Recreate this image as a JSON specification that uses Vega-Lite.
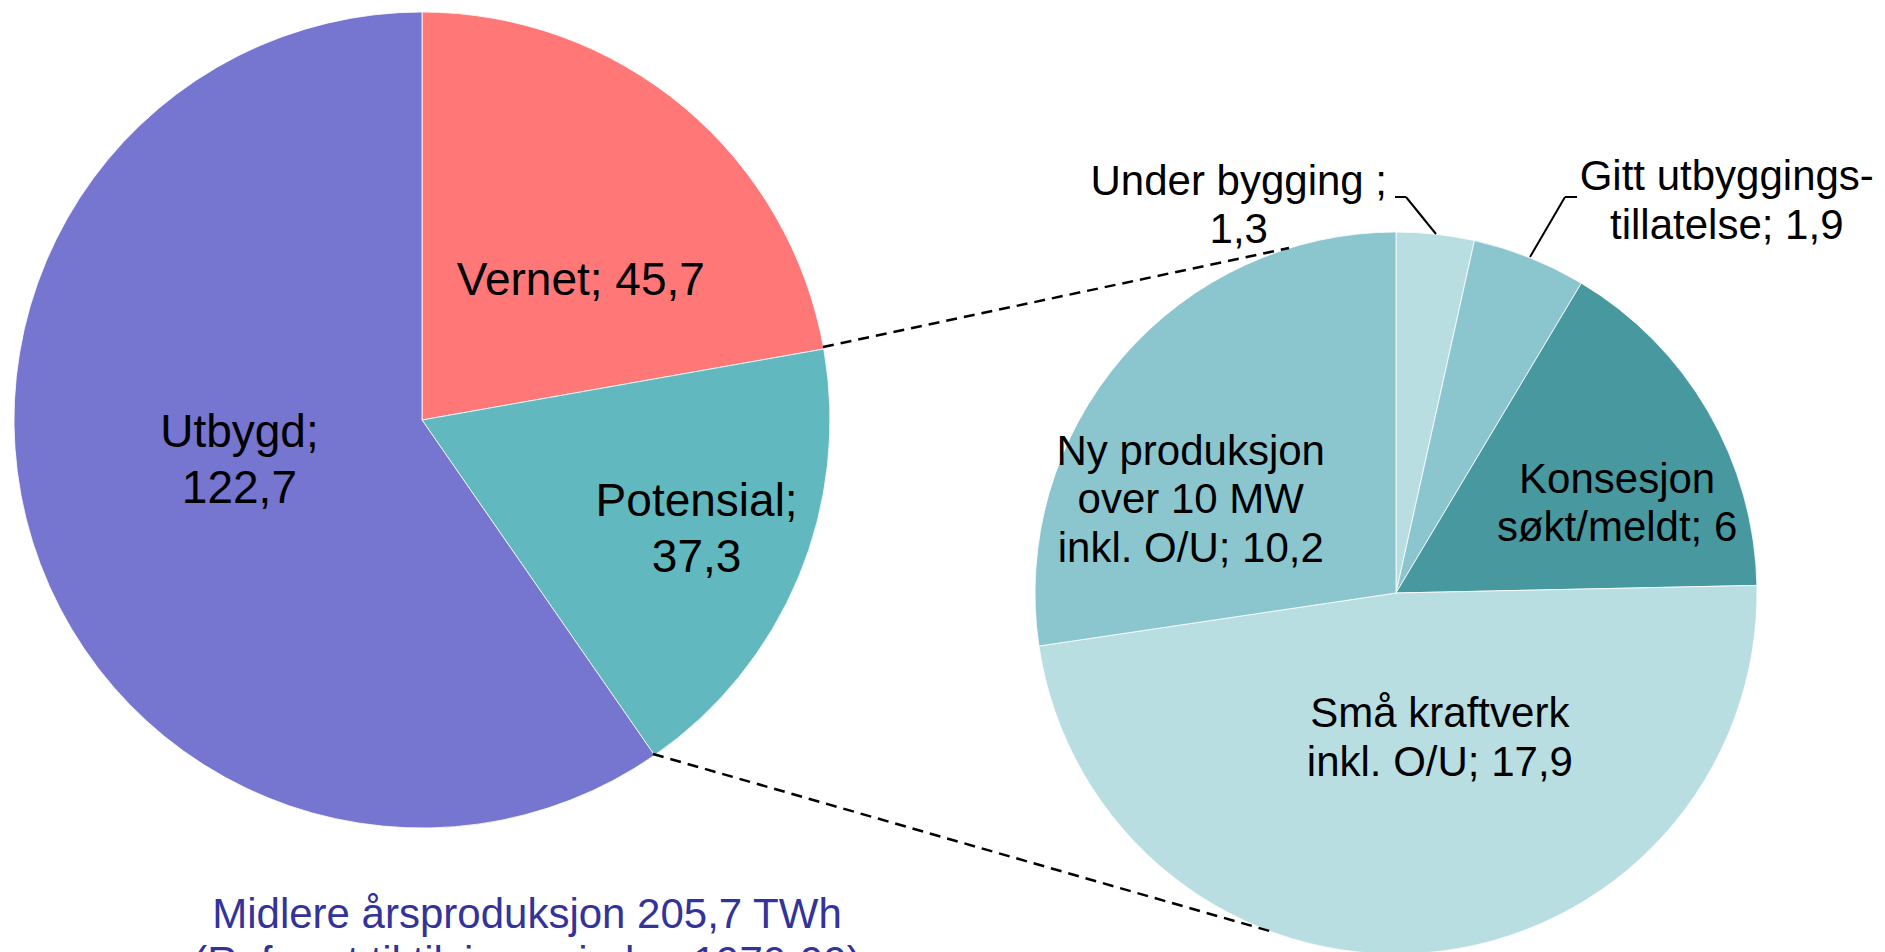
{
  "$schema": "https://vega.github.io/schema/vega-lite/v6.json",
  "width": 1885,
  "height": 952,
  "autosize": "none",
  "padding": 0,
  "background": "white",
  "config": {"view": {"stroke": null}, "font": "Liberation Sans"},
  "resolve": {"scale": {"theta": "independent"}},
  "layer": [
    {
      "data": {"values": [
        {"kategori": "Vernet", "twh": 45.7, "rekkefolge": 1, "etikett": ["Vernet; 45,7"]},
        {"kategori": "Potensial", "twh": 37.3, "rekkefolge": 2, "etikett": ["Potensial;", "37,3"]},
        {"kategori": "Utbygd", "twh": 122.7, "rekkefolge": 3, "etikett": ["Utbygd;", "122,7"]}
      ]},
      "encoding": {
        "theta": {"field": "twh", "type": "quantitative", "stack": true},
        "order": {"field": "rekkefolge", "type": "quantitative", "sort": "ascending"}
      },
      "layer": [
        {
          "mark": {"type": "arc", "x": 422, "y": 420, "radius": 408, "stroke": "white", "strokeWidth": 0.8},
          "encoding": {
            "color": {
              "field": "kategori", "type": "nominal", "legend": null,
              "scale": {
                "domain": ["Utbygd", "Vernet", "Potensial", "Under bygging", "Gitt utbyggingstillatelse", "Konsesjon søkt/meldt", "Små kraftverk", "Ny produksjon over 10 MW"],
                "range": ["#7675CF", "#FF7777", "#62B8BF", "#B9DEE2", "#8BC6CE", "#4898A0", "#B9DEE2", "#8BC6CE"]
              }
            }
          }
        },
        {
          "mark": {
            "type": "text", "x": 422, "y": 420,
            "radius": {"expr": "datum.kategori === 'Vernet' ? 202 : datum.kategori === 'Potensial' ? 291 : 185"},
            "dx": {"expr": "datum.kategori === 'Vernet' ? 29 : datum.kategori === 'Potensial' ? 6 : -6"},
            "dy": {"expr": "datum.kategori === 'Vernet' ? 30 : datum.kategori === 'Potensial' ? -16 : -28"},
            "fontSize": 46, "lineHeight": 56, "align": "center", "baseline": "alphabetic", "color": "black"
          },
          "encoding": {
            "text": {"field": "etikett", "type": "nominal"},
            "detail": {"field": "kategori", "type": "nominal"}
          }
        }
      ]
    },
    {
      "data": {"values": [
        {"kategori": "Under bygging", "twh": 1.3, "rekkefolge": 1, "etikett": ["Under bygging ;", "1,3"]},
        {"kategori": "Gitt utbyggingstillatelse", "twh": 1.9, "rekkefolge": 2, "etikett": ["Gitt utbyggings-", "tillatelse; 1,9"]},
        {"kategori": "Konsesjon søkt/meldt", "twh": 6, "rekkefolge": 3, "etikett": ["Konsesjon", "søkt/meldt; 6"]},
        {"kategori": "Små kraftverk", "twh": 17.9, "rekkefolge": 4, "etikett": ["Små kraftverk", "inkl. O/U; 17,9"]},
        {"kategori": "Ny produksjon over 10 MW", "twh": 10.2, "rekkefolge": 5, "etikett": ["Ny produksjon", "over 10 MW", "inkl. O/U; 10,2"]}
      ]},
      "encoding": {
        "theta": {"field": "twh", "type": "quantitative", "stack": true},
        "order": {"field": "rekkefolge", "type": "quantitative", "sort": "ascending"}
      },
      "layer": [
        {
          "mark": {"type": "arc", "x": 1396, "y": 593, "radius": 361, "stroke": "white", "strokeWidth": 0.8},
          "encoding": {
            "color": {
              "field": "kategori", "type": "nominal", "legend": null,
              "scale": {
                "domain": ["Utbygd", "Vernet", "Potensial", "Under bygging", "Gitt utbyggingstillatelse", "Konsesjon søkt/meldt", "Små kraftverk", "Ny produksjon over 10 MW"],
                "range": ["#7675CF", "#FF7777", "#62B8BF", "#B9DEE2", "#8BC6CE", "#4898A0", "#B9DEE2", "#8BC6CE"]
              }
            }
          }
        },
        {
          "mark": {
            "type": "text", "x": 1396, "y": 593,
            "radius": {"expr": "datum.rekkefolge === 1 ? 428 : datum.rekkefolge === 2 ? 521 : datum.rekkefolge === 3 ? 243 : datum.rekkefolge === 4 ? 141 : 242"},
            "dx": {"expr": "datum.rekkefolge === 1 ? -204 : datum.rekkefolge === 2 ? 138 : datum.rekkefolge === 3 ? 11 : datum.rekkefolge === 4 ? 32 : -22"},
            "dy": {"expr": "datum.rekkefolge === 1 ? 27 : datum.rekkefolge === 2 ? 81.5 : datum.rekkefolge === 3 ? 22 : datum.rekkefolge === 4 ? -6.5 : 30"},
            "fontSize": 42, "lineHeight": 48.5, "align": "center", "baseline": "alphabetic", "color": "black"
          },
          "encoding": {
            "text": {"field": "etikett", "type": "nominal"},
            "detail": {"field": "kategori", "type": "nominal"}
          }
        }
      ]
    },
    {
      "data": {"values": [{}]},
      "mark": {"type": "rule", "color": "black", "strokeWidth": 2.5, "strokeDash": [11, 7]},
      "encoding": {"x": {"value": 823}, "y": {"value": 347}, "x2": {"value": 1289}, "y2": {"value": 248}}
    },
    {
      "data": {"values": [{}]},
      "mark": {"type": "rule", "color": "black", "strokeWidth": 2.5, "strokeDash": [11, 7]},
      "encoding": {"x": {"value": 653}, "y": {"value": 754}, "x2": {"value": 1273}, "y2": {"value": 932}}
    },
    {
      "data": {"values": [{}]},
      "mark": {"type": "rule", "color": "black", "strokeWidth": 2},
      "encoding": {"x": {"value": 1395}, "y": {"value": 197}, "x2": {"value": 1406}, "y2": {"value": 197}}
    },
    {
      "data": {"values": [{}]},
      "mark": {"type": "rule", "color": "black", "strokeWidth": 2},
      "encoding": {"x": {"value": 1406}, "y": {"value": 197}, "x2": {"value": 1436}, "y2": {"value": 234}}
    },
    {
      "data": {"values": [{}]},
      "mark": {"type": "rule", "color": "black", "strokeWidth": 2},
      "encoding": {"x": {"value": 1565}, "y": {"value": 197}, "x2": {"value": 1577}, "y2": {"value": 197}}
    },
    {
      "data": {"values": [{}]},
      "mark": {"type": "rule", "color": "black", "strokeWidth": 2},
      "encoding": {"x": {"value": 1565}, "y": {"value": 197}, "x2": {"value": 1530}, "y2": {"value": 257}}
    },
    {
      "data": {"values": [{}]},
      "mark": {
        "type": "text", "x": 527, "y": 928,
        "text": ["Midlere årsproduksjon 205,7 TWh", "(Referert til tilsigsperioden 1970-99)"],
        "fontSize": 42, "lineHeight": 48, "align": "center", "baseline": "alphabetic", "color": "#333399"
      },
      "encoding": {}
    }
  ]
}
